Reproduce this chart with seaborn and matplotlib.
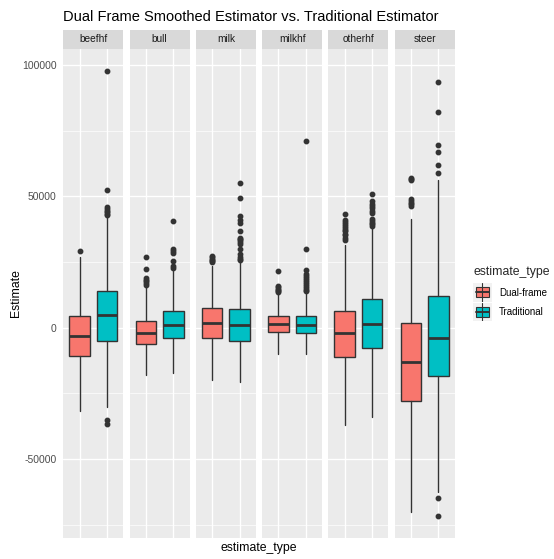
import numpy as np
import pandas as pd
import matplotlib.pyplot as plt
import seaborn as sns
from matplotlib.patches import Rectangle

commodities = ['beefhf', 'bull', 'milk', 'milkhf', 'otherhf', 'steer']
estimate_types = ['Dual-frame', 'Traditional']
palette = ['#F8766D', '#00BFC4']

# box stats (one value per commodity)
dual_lo = [-31600, -18100, -20000, -9900, -37100, -70100]
dual_q1 = [-10800, -6200, -3900, -1800, -11150, -27900]
dual_med = [-3300, -1900, 1650, 1300, -2000, -12900]
dual_q3 = [4300, 2700, 7400, 4300, 6460, 1650]
dual_hi = [26900, 15700, 23600, 12900, 31600, 41300]
dual_out = [
    [29000],
    [16300, 17000, 17600, 18300, 18900, 22400, 27000],
    [24800, 25300, 25800, 26300, 26700, 27100],
    [13400, 13900, 14400, 14900, 15300, 15700, 21700],
    [33500, 34300, 35100, 35800, 36600, 37300, 38000, 38800, 39500, 40200, 41000, 43200],
    [46400, 47000, 47600, 48300, 48900, 56000, 56500, 56900],
]

trad_lo = [-30300, -17200, -20600, -9900, -34000, -62500]
trad_q1 = [-4900, -3900, -4940, -2200, -7730, -18400]
trad_med = [4700, 1200, 880, 880, 1500, -4060]
trad_q3 = [14070, 6200, 7100, 4300, 11000, 11900]
trad_hi = [42300, 21400, 25000, 12900, 37900, 56300]
trad_out = [
    [-36500, -35300, 42700, 43300, 43900, 44500, 45200, 45900, 52300, 97700],
    [22700, 23300, 25200, 28400, 29200, 29900, 40400],
    [25600, 26300, 27000, 28000, 30000, 31900, 32500, 33200, 33600, 34100,
     36600, 40000, 40800, 42300, 49300, 55000],
    [13800, 14500, 15200, 16000, 16700, 17400, 18200, 18900, 19700, 20400,
     22000, 29900, 71000],
    [38500, 39300, 40000, 40700, 41300, 43600, 44500, 45400, 46300, 47200, 48000, 50800],
    [-71500, -64800, 58800, 62000, 66700, 69300, 82000, 93500],
]

sns.set_theme(style='darkgrid')
plt.rcParams['font.family'] = ['Liberation Sans', 'DejaVu Sans']

W, H = 554, 559
fig, axes = plt.subplots(1, 6, figsize=(W / 100, H / 100), dpi=100, sharey=True)
fig.patch.set_facecolor('white')
fig.subplots_adjust(left=63.3 / W, right=454.7 / W, top=1 - 49 / H, bottom=1 - 538 / H, wspace=0.102)

dark = '#333333'
for i, ax in enumerate(axes):
    stats = [
        dict(whislo=dual_lo[i], q1=dual_q1[i], med=dual_med[i], q3=dual_q3[i],
             whishi=dual_hi[i], fliers=dual_out[i]),
        dict(whislo=trad_lo[i], q1=trad_q1[i], med=trad_med[i], q3=trad_q3[i],
             whishi=trad_hi[i], fliers=trad_out[i]),
    ]
    ax.set_facecolor('#EBEBEB')
    ax.set_axisbelow(True)
    res = ax.bxp(stats, positions=[1, 2], widths=0.75, patch_artist=True, showcaps=False,
                 boxprops=dict(edgecolor=dark, linewidth=1.0),
                 medianprops=dict(color=dark, linewidth=2.0),
                 whiskerprops=dict(color=dark, linewidth=1.0),
                 flierprops=dict(marker='o', markersize=3.2, markerfacecolor=dark,
                                 markeredgecolor=dark, linestyle='none'))
    for box, c in zip(res['boxes'], palette):
        box.set_facecolor(c)
    ax.set_xlim(0.4, 2.6)
    ax.set_ylim(-80000, 106000)
    ax.set_xticks([1, 2])
    ax.set_xticklabels([])
    ax.set_yticks([-50000, 0, 50000, 100000])
    ax.set_yticks([-75000, -25000, 25000, 75000], minor=True)
    ax.grid(which='major', color='white', linewidth=1.0)
    ax.grid(which='minor', axis='y', color='white', linewidth=0.5)
    ax.tick_params(axis='x', length=0)
    ax.tick_params(axis='y', which='minor', length=0)
    for s in ax.spines.values():
        s.set_visible(False)
    sh = 19 / 489
    ax.add_patch(Rectangle((0, 1), 1, sh, transform=ax.transAxes, clip_on=False,
                           facecolor='#D9D9D9', edgecolor='none'))
    ax.text(0.5, 1 + sh / 2, commodities[i], transform=ax.transAxes, ha='center',
            va='center', fontsize=7.3, color='#1A1A1A')
    if i == 0:
        ax.tick_params(axis='y', which='major', length=3, width=0.8, color=dark,
                       labelsize=7.5, labelcolor='#4D4D4D', pad=2)
        ax.set_yticklabels(['-50000', '0', '50000', '100000'])
    else:
        ax.tick_params(axis='y', which='major', length=0)

fig.text(63 / W, 1 - 17 / H, 'Dual Frame Smoothed Estimator vs. Traditional Estimator',
         ha='left', va='center', fontsize=10.5, color='black')
fig.text(16 / W, 1 - 293 / H, 'Estimate', rotation=90, ha='center', va='center',
         fontsize=8.8, color='black')
fig.text(259 / W, 1 - 548 / H, 'estimate_type', ha='center', va='center',
         fontsize=8.8, color='black')

# legend
fig.text(473 / W, 1 - 272 / H, 'estimate_type', ha='left', va='center', fontsize=8.8)
for k, (lab, c) in enumerate(zip(estimate_types, palette)):
    top = 283 + k * 19.5
    kax = fig.add_axes([473 / W, 1 - (top + 18.5) / H, 18.5 / W, 18.5 / H])
    kax.set_xlim(0, 1)
    kax.set_ylim(0, 1)
    kax.axis('off')
    kax.add_patch(Rectangle((0, 0), 1, 1, facecolor='#F2F2F2', edgecolor='none'))
    kax.plot([0.5, 0.5], [0.0, 1.0], color=dark, linewidth=0.8)
    kax.add_patch(Rectangle((0.14, 0.22), 0.72, 0.56, facecolor=c, edgecolor=dark, linewidth=0.8))
    kax.plot([0.14, 0.86], [0.5, 0.5], color=dark, linewidth=1.4)
    fig.text(499 / W, 1 - (top + 9.5) / H, lab, ha='left', va='center', fontsize=7.0,
             color='black')

fig.savefig('out.png', dpi=100)
